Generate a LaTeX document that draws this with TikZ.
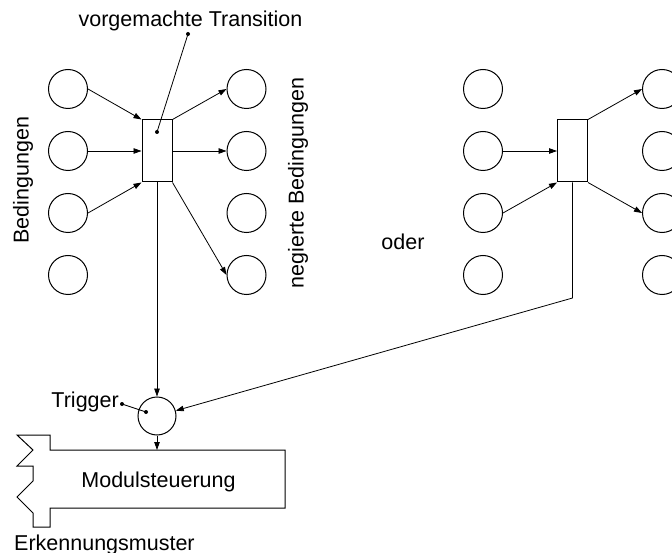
\documentclass[tikz,border=0pt]{standalone}
\usepackage{fontspec}
\setmainfont{Liberation Sans}
\usetikzlibrary{arrows.meta}
\begin{document}
\begin{tikzpicture}[x=1pt,y=-1pt,
  place/.style={draw,circle,minimum size=39pt,inner sep=0pt,line width=1pt},
  trans/.style={draw,rectangle,minimum width=30pt,minimum height=62pt,inner sep=0pt,line width=1pt},
  arr/.style={-{Triangle[length=8pt,width=5.5pt]},line width=0.8pt},
  lbl/.style={inner sep=0pt,font=\fontsize{21.5pt}{26pt}\selectfont},
  pinline/.style={line width=0.8pt},
  outline/.style={line width=1pt}]
\clip (0,0) rectangle (672,553);
% places
\foreach \i/\y in {1/89,2/151,3/213,4/275}{
  \node[place] (a\i) at (68,\y) {};
  \node[place] (b\i) at (246.5,\y) {};
  \node[place] (c\i) at (483,\y) {};
  \node[place] (d\i) at (662,\y) {};
}
% transitions
\node[trans] (L) at (157,151) {};
\node[trans] (R) at (572.5,151) {};
\node[place,minimum size=38pt] (trig) at (157,416) {};
% left group arcs
\draw[arr] (a1.east) -- (L.north west);
\draw[arr] (a2.east) -- (L.west);
\draw[arr] (a3.east) -- (L.south west);
\draw[arr] (L.north east) -- (b1.west);
\draw[arr] (L.east) -- (b2.west);
\draw[arr] (L.south east) -- (b4.west);
% right group arcs
\draw[arr] (c2.east) -- (R.west);
\draw[arr] (c3.east) -- (R.south west);
\draw[arr] (R.north east) -- (d1.west);
\draw[arr] (R.south east) -- (d3.west);
% to trigger
\coordinate (bend) at (572.5,298);
\draw[arr] (L.south) -- (trig);
\draw[arr] (R.south) -- (bend) -- (trig);
% Modulsteuerung block
\draw[outline] (50,450) -- (50,435) -- (17,435) -- (33,450) -- (17,466) -- (33,466)
  -- (33,481) -- (17,497) -- (33,513) -- (33,527) -- (50,527) -- (50,508)
  -- (285,508) -- (285,450) -- cycle;
\coordinate (mtop) at (157,450);
\draw[arr] (trig) -- (mtop);
% labels
\node[lbl,anchor=base] (vtl) at (190.5,27) {vorgemachte Transition};
\coordinate (vt1) at (188,34);
\coordinate (vt2) at (157,132);
\draw[pinline] (vt1) -- (vt2);
\fill (vt1) circle (2pt);
\fill (vt2) circle (2pt);
\node[lbl,rotate=90] (bed) at (23,180) {Bedingungen};
\node[lbl,rotate=90] (neg) at (298,183) {negierte Bedingungen};
\node[lbl,anchor=base] (oder) at (403,250) {oder};
\node[lbl,anchor=base east] (trl) at (119,407) {Trigger};
\coordinate (tr1) at (122,404);
\coordinate (tr2) at (146,412);
\draw[pinline] (tr1) -- (tr2);
\fill (tr1) circle (2pt);
\fill (tr2) circle (2pt);
\node[lbl,anchor=base] (ms) at (158.5,487) {Modulsteuerung};
\node[lbl,anchor=base west] (ek) at (14,550) {Erkennungsmuster};
\end{tikzpicture}
\end{document}
